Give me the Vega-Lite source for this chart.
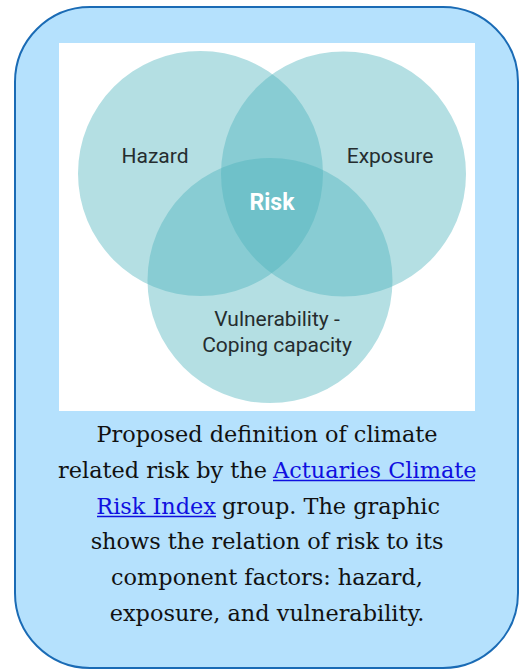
{
  "$schema": "https://vega.github.io/schema/vega-lite/v6.json",
  "width": 519,
  "height": 670,
  "padding": 0,
  "autosize": {"type": "none"},
  "background": "white",
  "config": {"view": {"stroke": null}},
  "datasets": {
    "box": [{"x": 15, "x2": 518, "y": 7, "y2": 668}],
    "panel": [{"x": 59, "x2": 475, "y": 43, "y2": 411}],
    "circles": [
      {"set": "Hazard", "x": 200.5, "y": 173.5},
      {"set": "Exposure", "x": 343.5, "y": 174},
      {"set": "Vulnerability", "x": 270, "y": 280.5}
    ],
    "labels": [
      {"text": "Hazard", "x": 155, "y": 157},
      {"text": "Exposure", "x": 390, "y": 157},
      {"text": "Vulnerability -", "x": 277, "y": 320},
      {"text": "Coping capacity", "x": 277, "y": 346}
    ],
    "risk": [{"text": "Risk", "x": 272, "y": 203}],
    "capCenter": [
      {"text": "Proposed definition of climate", "x": 267, "y": 442},
      {"text": "shows the relation of risk to its", "x": 267, "y": 549.4},
      {"text": "component factors: hazard,", "x": 267, "y": 585.2},
      {"text": "exposure, and vulnerability.", "x": 267, "y": 621}
    ],
    "capRightBlack": [{"text": "related risk by the", "x": 267, "y": 477.8}],
    "capLeftBlue": [{"text": "Actuaries Climate", "x": 273, "y": 477.8}],
    "capRightBlue": [{"text": "Risk Index", "x": 216, "y": 513.6}],
    "capLeftBlack": [{"text": "group. The graphic", "x": 222, "y": 513.6}],
    "underline": [
      {"x": 273, "x2": 475, "y": 480.5},
      {"x": 97, "x2": 216, "y": 516.5}
    ]
  },
  "encoding": {
    "x": {"field": "x", "type": "quantitative", "axis": null, "scale": {"domain": [0, 519], "nice": false, "zero": false}},
    "y": {"field": "y", "type": "quantitative", "axis": null, "scale": {"domain": [0, 670], "nice": false, "zero": false, "reverse": true}}
  },
  "layer": [
    {
      "data": {"name": "box"},
      "mark": {"type": "rect", "fill": "#B5E1FD", "stroke": "#1A6BB5", "strokeWidth": 2, "cornerRadius": 75},
      "encoding": {"x2": {"field": "x2"}, "y2": {"field": "y2"}}
    },
    {
      "data": {"name": "panel"},
      "mark": {"type": "rect", "fill": "#FFFFFF", "strokeWidth": 0},
      "encoding": {"x2": {"field": "x2"}, "y2": {"field": "y2"}}
    },
    {
      "data": {"name": "circles"},
      "mark": {"type": "point", "shape": "circle", "filled": true, "size": 60025, "color": "#4DB3BD", "opacity": 0.42, "strokeWidth": 0}
    },
    {
      "data": {"name": "labels"},
      "mark": {"type": "text", "font": "Roboto", "fontSize": 21, "color": "#252D2F", "align": "center", "baseline": "middle"},
      "encoding": {"text": {"field": "text"}}
    },
    {
      "data": {"name": "risk"},
      "mark": {"type": "text", "font": "Roboto", "fontSize": 23, "fontWeight": "bold", "color": "#FFFFFF", "align": "center", "baseline": "middle"},
      "encoding": {"text": {"field": "text"}}
    },
    {
      "data": {"name": "capCenter"},
      "mark": {"type": "text", "font": "DejaVu Serif", "fontSize": 22.4, "color": "#111111", "align": "center", "baseline": "alphabetic"},
      "encoding": {"text": {"field": "text"}}
    },
    {
      "data": {"name": "capRightBlack"},
      "mark": {"type": "text", "font": "DejaVu Serif", "fontSize": 22.4, "color": "#111111", "align": "right", "baseline": "alphabetic"},
      "encoding": {"text": {"field": "text"}}
    },
    {
      "data": {"name": "capLeftBlack"},
      "mark": {"type": "text", "font": "DejaVu Serif", "fontSize": 22.4, "color": "#111111", "align": "left", "baseline": "alphabetic"},
      "encoding": {"text": {"field": "text"}}
    },
    {
      "data": {"name": "capLeftBlue"},
      "mark": {"type": "text", "font": "DejaVu Serif", "fontSize": 22.4, "color": "#1010E0", "align": "left", "baseline": "alphabetic"},
      "encoding": {"text": {"field": "text"}}
    },
    {
      "data": {"name": "capRightBlue"},
      "mark": {"type": "text", "font": "DejaVu Serif", "fontSize": 22.4, "color": "#1010E0", "align": "right", "baseline": "alphabetic"},
      "encoding": {"text": {"field": "text"}}
    },
    {
      "data": {"name": "underline"},
      "mark": {"type": "rule", "color": "#1010E0", "strokeWidth": 1.5},
      "encoding": {"x2": {"field": "x2"}}
    }
  ]
}
